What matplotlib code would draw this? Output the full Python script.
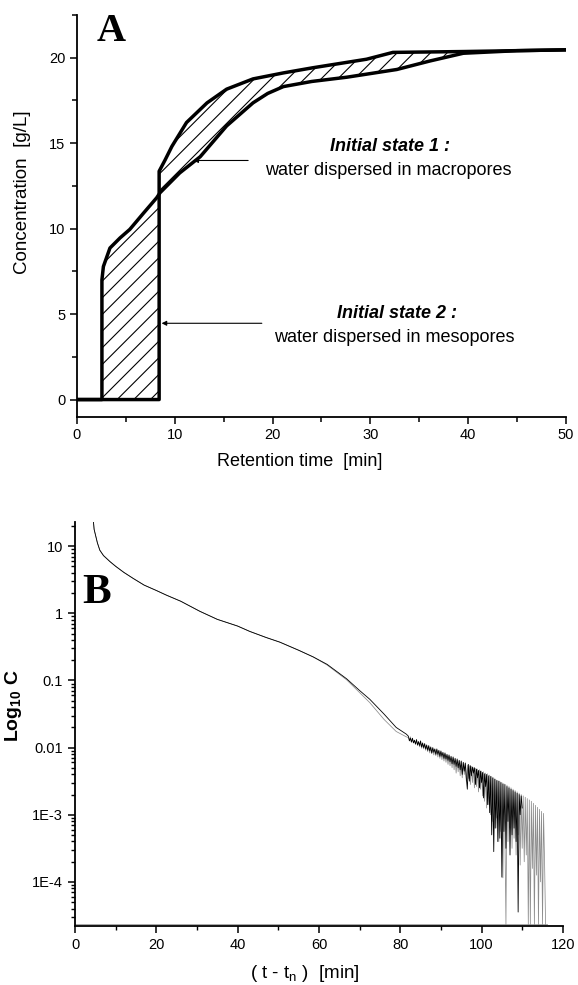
import matplotlib
matplotlib.use("Agg")
import matplotlib.pyplot as plt
from matplotlib.ticker import FixedLocator, FixedFormatter, MultipleLocator, LogLocator, NullFormatter
import numpy as np

plt.rcParams['font.family'] = ['Liberation Sans', 'DejaVu Sans']
plt.rcParams['mathtext.default'] = 'regular'
plt.rcParams['hatch.linewidth'] = 0.8

# Panel A: breakthrough curves, concentration [g/L] vs retention time [min]
macro_t = [0, 2.55, 2.55, 2.7, 3.37, 4.4, 5.4, 6.8, 8.15, 8.5, 10.5, 12.6, 15.3, 18.0, 19.5,
           21.1, 24.0, 27.6, 32.7, 36.1, 39.5, 45, 50]
macro_c = [0, 0, 7.0, 7.78, 8.86, 9.45, 9.95, 10.9, 11.8, 12.1, 13.25, 14.2, 16.0, 17.35, 17.9,
           18.3, 18.6, 18.85, 19.3, 19.8, 20.25, 20.4, 20.45]
meso_t = [0, 8.4, 8.4, 9.0, 9.7, 11.2, 13.3, 15.3, 18.0, 21.1, 24.1, 29.6, 32.3, 39.5, 50]
meso_c = [0, 0, 13.35, 14.0, 14.8, 16.2, 17.35, 18.15, 18.75, 19.1, 19.4, 19.9, 20.3, 20.35, 20.45]

# Panel B: log10 of concentration vs (t - t_n) [min]
head_t = [4.4, 4.7, 5.5, 6.1, 7, 8.6, 10, 12, 14.3, 17, 20, 22.5, 26, 30.7, 35, 40, 43, 47,
          50.4, 55, 58.6, 62, 66.8, 70, 72.5, 76, 79, 81.5]
run1_head = [1.45, 1.25, 1.05, 0.94, 0.86, 0.77, 0.70, 0.61, 0.52, 0.42, 0.34, 0.27, 0.18, 0.03,
             -0.09, -0.19, -0.27, -0.36, -0.43, -0.55, -0.65, -0.76, -0.975, -1.15, -1.28,
             -1.50, -1.70, -1.80]
run2_head = [1.45, 1.25, 1.05, 0.94, 0.86, 0.77, 0.70, 0.61, 0.52, 0.42, 0.34, 0.27, 0.18, 0.03,
             -0.09, -0.19, -0.27, -0.36, -0.43, -0.55, -0.65, -0.77, -0.99, -1.18, -1.33,
             -1.58, -1.76, -1.84]

# noisy tails, sampled every 0.25 min from 82 min (one row per minute)
tail_start, tail_step = 82.0, 0.25
run1_tail = [
    -1.83, -1.90, -1.86, -1.92,  -1.86, -1.93, -1.89, -1.95,  -1.88, -1.96, -1.91, -1.97,
    -1.90, -1.99, -1.93, -2.00,  -1.94, -2.02, -1.96, -2.04,  -1.97, -2.05, -1.99, -2.08,
    -2.00, -2.07, -2.02, -2.10,  -2.02, -2.10, -2.04, -2.13,  -2.05, -2.13, -2.07, -2.16,
    -2.08, -2.17, -2.10, -2.19,  -2.11, -2.21, -2.13, -2.24,  -2.14, -2.25, -2.16, -2.28,
    -2.17, -2.30, -2.19, -2.33,  -2.20, -2.40, -2.22, -2.35,  -2.23, -2.45, -2.62, -2.25,
    -2.50, -2.27, -2.42, -2.29,  -2.38, -2.30, -2.55, -2.32,  -2.45, -2.34, -2.60, -2.35,
    -2.52, -2.37, -2.75, -2.39,  -2.58, -2.40, -2.85, -2.42,  -2.97, -2.43, -3.30, -2.45,
    -3.55, -2.47, -3.20, -2.49,  -3.40, -2.50, -3.35, -2.52,  -3.93, -2.54, -3.25, -2.55,
    -3.50, -2.58, -3.10, -2.60,  -3.60, -2.62, -3.30, -2.64,  -3.20, -2.66, -3.40, -2.68,
    -4.45, -2.70, -3.00, -2.72,  -2.90]
run2_tail = [
    -1.85, -1.88, -1.84, -1.91,  -1.87, -1.93, -1.89, -1.94,  -1.90, -1.97, -1.92, -1.99,
    -1.93, -2.01, -1.95, -2.02,  -1.96, -2.04, -1.98, -2.06,  -1.99, -2.08, -2.01, -2.09,
    -2.02, -2.11, -2.03, -2.12,  -2.04, -2.14, -2.06, -2.16,  -2.07, -2.18, -2.09, -2.20,
    -2.10, -2.22, -2.12, -2.25,  -2.13, -2.27, -2.15, -2.30,  -2.16, -2.33, -2.18, -2.38,
    -2.19, -2.36, -2.20, -2.42,  -2.21, -2.45, -2.23, -2.40,  -2.24, -2.50, -2.26, -2.46,
    -2.27, -2.55, -2.28, -2.52,  -2.30, -2.60, -2.31, -2.58,  -2.32, -2.66, -2.33, -2.62,
    -2.35, -2.72, -2.36, -2.80,  -2.38, -2.90, -2.39, -2.85,  -2.41, -3.00, -2.43, -3.10,
    -2.45, -3.20, -2.47, -3.05,  -2.49, -3.40, -2.50, -3.25,  -2.52, -3.94, -2.54, -3.30,
    -4.64, -2.56, -3.40, -2.58,  -3.20, -2.60, -3.50, -2.62,  -3.35, -2.64, -3.60, -2.66,
    -3.30, -2.68, -3.75, -2.70,  -3.50, -2.72, -3.70, -2.74,  -3.60, -2.76, -4.64, -2.78,
    -4.64, -2.80, -3.80, -2.83,  -4.64, -2.86, -3.90, -2.89,  -4.64, -2.92, -4.00, -2.95,
    -4.64, -2.98, -3.70, -4.64]
floor_t = [0, 116]
floor_c = [2.35e-5, 2.35e-5]

y_tick_vals = [1e-4, 1e-3, 1e-2, 1e-1, 1, 10]
y_tick_text = ['1E-4', '1E-3', '0.01', '0.1', '1', '10']

fig = plt.figure(figsize=(5.78, 9.85), dpi=100)

# ---- A ----
ax = fig.add_axes([0.1332, 0.577, 0.846, 0.408])
poly_t = np.concatenate([macro_t, meso_t[::-1]])
poly_c = np.concatenate([macro_c, meso_c[::-1]])
ax.fill(poly_t, poly_c, facecolor='none', edgecolor='black', linewidth=0, hatch='//')
ax.plot(macro_t, macro_c, color='black', lw=2.5, solid_joinstyle='round', zorder=3)
ax.plot(meso_t, meso_c, color='black', lw=2.5, solid_joinstyle='round', zorder=3)

arrow = dict(arrowstyle='-|>', lw=0.8, color='black', mutation_scale=7, shrinkA=0, shrinkB=0)
ax.annotate('', xy=(11.9, 13.98), xytext=(17.5, 13.98), arrowprops=arrow)
ax.annotate('', xy=(8.65, 4.46), xytext=(18.9, 4.46), arrowprops=arrow)

ax.text(32.0, 14.8, 'Initial state 1 :', fontsize=13, fontweight='bold', fontstyle='italic',
        ha='center', va='center')
ax.text(31.8, 13.4, 'water dispersed in macropores', fontsize=13, ha='center', va='center')
ax.text(32.7, 5.04, 'Initial state 2 :', fontsize=13, fontweight='bold', fontstyle='italic',
        ha='center', va='center')
ax.text(32.4, 3.63, 'water dispersed in mesopores', fontsize=13, ha='center', va='center')
ax.text(3.5, 21.5, 'A', fontsize=29, fontweight='bold', family='Liberation Serif',
        ha='center', va='center')

ax.set_xlim(0, 50)
ax.set_ylim(-1, 22.5)
ax.xaxis.set_major_locator(MultipleLocator(10))
ax.xaxis.set_minor_locator(MultipleLocator(5))
ax.yaxis.set_major_locator(MultipleLocator(5))
ax.yaxis.set_minor_locator(MultipleLocator(2.5))
for side in ['top', 'right']:
    ax.spines[side].set_visible(False)
for side in ['left', 'bottom']:
    ax.spines[side].set_linewidth(1.3)
ax.tick_params(which='major', direction='out', length=5, width=1.1, labelsize=10.5)
ax.tick_params(which='minor', direction='out', length=3.5, width=1.1)
fig.text(23 / 578, 1 - 192 / 985, 'Concentration  [g/L]', rotation=90, fontsize=13.5,
         ha='center', va='center')
fig.text(300 / 578, 1 - 462 / 985, 'Retention time  [min]', fontsize=13,
         ha='center', va='center')

# ---- B ----
bx = fig.add_axes([0.1298, 0.0599, 0.844, 0.410])
tail_t = tail_start + tail_step * np.arange(max(len(run1_tail), len(run2_tail)))
run1_t = np.concatenate([head_t, tail_t[:len(run1_tail)]])
run2_t = np.concatenate([head_t, tail_t[:len(run2_tail)]])
run1 = 10 ** np.concatenate([run1_head, run1_tail])
run2 = 10 ** np.concatenate([run2_head, run2_tail])
bx.plot(floor_t, floor_c, color='#9a9a9a', lw=0.6)
bx.plot(run2_t, run2, color='#8c8c8c', lw=0.55)
bx.plot(run1_t, run1, color='black', lw=0.6)
bx.text(5.3, 2.0, 'B', fontsize=31, fontweight='bold', family='Liberation Serif',
        ha='center', va='center')

bx.set_yscale('log')
bx.set_xlim(0, 120)
bx.set_ylim(2.2e-5, 22.8)
bx.xaxis.set_major_locator(MultipleLocator(20))
bx.xaxis.set_minor_locator(MultipleLocator(10))
bx.yaxis.set_major_locator(FixedLocator(y_tick_vals))
bx.yaxis.set_major_formatter(FixedFormatter(y_tick_text))
bx.yaxis.set_minor_locator(LogLocator(base=10, subs=np.arange(2, 10), numticks=20))
bx.yaxis.set_minor_formatter(NullFormatter())
for side in ['top', 'right']:
    bx.spines[side].set_visible(False)
for side in ['left', 'bottom']:
    bx.spines[side].set_linewidth(1.3)
bx.tick_params(which='major', direction='out', length=5, width=1.1, labelsize=10.5)
bx.tick_params(which='minor', direction='out', length=3, width=1.0)
fig.text(13 / 578, 1 - 706 / 985, r'Log$_{10}$ C', rotation=90, fontsize=14,
         fontweight='bold', ha='center', va='center')
fig.text(305 / 578, 1 - 973 / 985, r'( t - t$_n$ )  [min]', fontsize=13.5,
         ha='center', va='center')

fig.savefig('out.png', dpi=100)
